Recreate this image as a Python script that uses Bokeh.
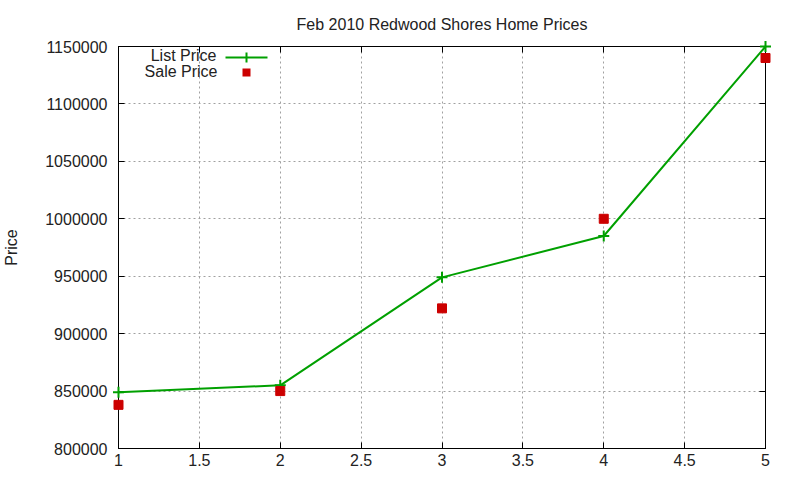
#Script to plot Feb 2010 Redwood Shores home prices with bokeh

##### IMPORT NECESSARY MODULES #####
from bokeh.plotting import figure
from bokeh.models import (LinearAxis, FixedTicker, NumeralTickFormatter,
                          CustomJSTickFormatter, Label, BoxAnnotation, Range1d)
from bokeh.embed import file_html
from bokeh.resources import INLINE

#### DATA ####
homes = [1, 2, 3, 4, 5]
list_price = [849000, 855000, 949000, 985000, 1150000]
sale_price = [838000, 850000, 922000, 1000000, 1140000]

x_ticks = [1, 1.5, 2, 2.5, 3, 3.5, 4, 4.5, 5]
y_ticks = [800000, 850000, 900000, 950000, 1000000, 1050000, 1100000, 1150000]

green = "#00a000"
red = "#cc0000"
font = "Liberation Sans"
fsize = "16px"

#### FIGURE ####
p = figure(width=792, height=478, output_backend="svg", toolbar_location=None,
           x_range=Range1d(1, 5), y_range=Range1d(800000, 1150000),
           min_border_left=118, min_border_right=27, min_border_top=45, min_border_bottom=30)
p.title.text = "Feb 2010 Redwood Shores Home Prices"
p.title.align = "center"
p.title.text_font = font
p.title.text_font_size = fsize
p.title.text_font_style = "normal"
p.title.text_color = "#222222"
p.title.standoff = 27

p.outline_line_color = "black"
p.outline_line_alpha = 1
p.background_fill_color = "white"
p.border_fill_color = "white"

#axes
p.xaxis.ticker = FixedTicker(ticks=x_ticks)
p.yaxis.ticker = FixedTicker(ticks=y_ticks)
p.xaxis.formatter = NumeralTickFormatter(format="0.[0]")
p.yaxis.formatter = NumeralTickFormatter(format="0")
p.yaxis.axis_label = "Price"
p.yaxis.axis_label_text_font_style = "normal"

#mirrored ticks on top and right
p.add_layout(LinearAxis(ticker=FixedTicker(ticks=x_ticks),
                        formatter=CustomJSTickFormatter(code="return ''")), "above")
p.add_layout(LinearAxis(ticker=FixedTicker(ticks=y_ticks),
                        formatter=CustomJSTickFormatter(code="return ''")), "right")

for ax in p.axis:
    ax.major_tick_in = 6
    ax.major_tick_out = 0
    ax.minor_tick_line_color = None
    ax.axis_line_color = "black"
    ax.major_tick_line_color = "black"
    ax.major_label_text_font = font
    ax.major_label_text_font_size = fsize
    ax.major_label_text_color = "#222222"
    ax.axis_label_text_font = font
    ax.axis_label_text_font_size = fsize
    ax.axis_label_text_color = "#222222"
p.xaxis[0].major_label_standoff = 12
p.yaxis[0].major_label_standoff = 11
p.yaxis[0].axis_label_standoff = 22
p.above[0].major_label_standoff = 0
p.right[0].major_label_standoff = 0

#grid
p.xgrid.ticker = FixedTicker(ticks=x_ticks)
p.ygrid.ticker = FixedTicker(ticks=y_ticks)
p.grid.grid_line_color = "#a0a0a0"
p.grid.grid_line_dash = "2 3"
p.grid.grid_line_width = 1

#### PLOT DATA ####
p.line(homes, list_price, color=green, line_width=2, level="overlay")
p.scatter(homes, list_price, marker="cross", size=11, line_color=green, line_width=2, level="overlay")
p.scatter(homes, sale_price, marker="square", size=9, fill_color=red, line_color=red, level="overlay")

#### LEGEND (gnuplot style: text then sample) ####
p.add_layout(Label(x=98, y=393, x_units="screen", y_units="screen", text="List Price",
                   text_align="right", text_baseline="middle", text_font=font,
                   text_font_size=fsize, text_color="#222222"))
p.add_layout(Label(x=99, y=377, x_units="screen", y_units="screen", text="Sale Price",
                   text_align="right", text_baseline="middle", text_font=font,
                   text_font_size=fsize, text_color="#222222"))
p.add_layout(BoxAnnotation(left=107, right=149, bottom=390, top=392,
                           left_units="screen", right_units="screen",
                           bottom_units="screen", top_units="screen",
                           fill_color=green, fill_alpha=1, line_alpha=0, level="overlay"))
p.add_layout(BoxAnnotation(left=127, right=129, bottom=386, top=396,
                           left_units="screen", right_units="screen",
                           bottom_units="screen", top_units="screen",
                           fill_color=green, fill_alpha=1, line_alpha=0, level="overlay"))
p.add_layout(BoxAnnotation(left=124, right=132, bottom=372, top=380,
                           left_units="screen", right_units="screen",
                           bottom_units="screen", top_units="screen",
                           fill_color=red, fill_alpha=1, line_alpha=0, level="overlay"))

open("out.html", "w").write(file_html(p, INLINE))
